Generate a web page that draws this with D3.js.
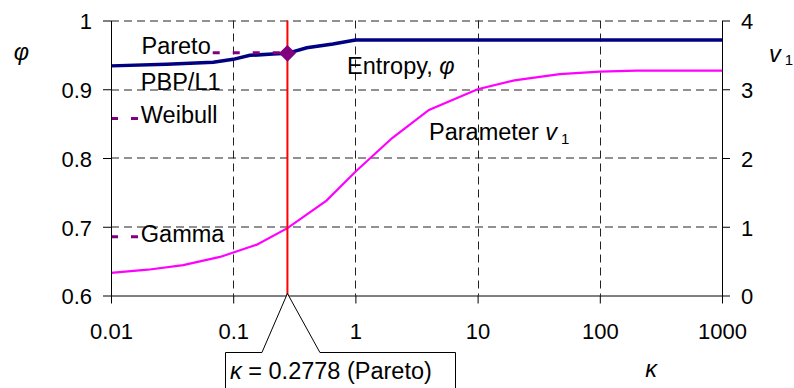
<!DOCTYPE html>
<html>
<head>
<meta charset="utf-8">
<script src="https://cdn.jsdelivr.net/npm/d3@7"></script>
<style>
  html, body { margin: 0; padding: 0; background: #fff; overflow: hidden; }
  svg { display: block; }
</style>
</head>
<body>
<div id="chart"></div>
<script>
// entropy phi (left axis) against kappa
const entropyKappa = [0.01, 0.0286, 0.0687, 0.1, 0.137, 0.211, 0.2778, 0.4, 0.655, 1, 1000];
const entropyPhi = [0.934, 0.9362, 0.9392, 0.9435, 0.9493, 0.9512, 0.9522, 0.9604, 0.9658, 0.9716, 0.9716];

// parameter v1 (right axis) against kappa
const v1Kappa = [0.01, 0.02, 0.039, 0.078, 0.156, 0.2778, 0.58, 1, 2, 4, 10, 20, 47, 100, 200, 1000];
const v1Values = [0.33, 0.375, 0.441, 0.561, 0.74, 0.98, 1.38, 1.8, 2.29, 2.7, 3.0, 3.13, 3.22, 3.255, 3.27, 3.27];

// reference distributions (phi levels)
const refNames = ["Pareto", "Weibull", "Gamma"];
const refPhi = [0.953, 0.8576, 0.6855];
const refFrom = [0.068, 0.01, 0.01];
const refTo = [0.2778, 0.0169, 0.0169];

const paretoKappa = 0.2778;
const paretoPhi = 0.9522;

const xTicks = [0.01, 0.1, 1, 10, 100, 1000];
const xTickLabels = ["0.01", "0.1", "1", "10", "100", "1000"];
const leftTicks = [0.6, 0.7, 0.8, 0.9, 1];
const leftTickLabels = ["0.6", "0.7", "0.8", "0.9", "1"];
const rightTicks = [0, 1, 2, 3, 4];

const fontFamily = "'Liberation Sans', Arial, sans-serif";
const outerWidth = 794;
const outerHeight = 388;
const margin = { top: 20.5, right: 72, bottom: 92.5, left: 111 };
const innerWidth = outerWidth - margin.left - margin.right;
const innerHeight = outerHeight - margin.top - margin.bottom;

const svg = d3
  .select("#chart")
  .append("svg")
  .attr("width", outerWidth)
  .attr("height", outerHeight)
  .attr("font-family", fontFamily);

const g = svg
  .append("g")
  .attr("transform", "translate(" + margin.left + "," + margin.top + ")");

const xScale = d3.scaleLog().domain([0.01, 1000]).range([0, innerWidth]);
const yLeft = d3.scaleLinear().domain([0.6, 1]).range([innerHeight, 0]);
const yRight = d3.scaleLinear().domain([0, 4]).range([innerHeight, 0]);

// grid
g.selectAll(".hgrid")
  .data(leftTicks.slice(1))
  .enter()
  .append("line")
  .attr("x1", 0)
  .attr("x2", innerWidth)
  .attr("y1", d => Math.round(yLeft(d)) + 0.5)
  .attr("y2", d => Math.round(yLeft(d)) + 0.5)
  .attr("stroke", "#222")
  .attr("stroke-dasharray", "8,5");

g.selectAll(".vgrid")
  .data(xTicks.slice(1, -1))
  .enter()
  .append("line")
  .attr("x1", d => Math.round(xScale(d)) + 0.5)
  .attr("x2", d => Math.round(xScale(d)) + 0.5)
  .attr("y1", 0)
  .attr("y2", innerHeight)
  .attr("stroke", "#222")
  .attr("stroke-dasharray", "8,5");

// curves
const v1Line = d3
  .line()
  .x((d, i) => xScale(v1Kappa[i]))
  .y(d => yRight(d));

g.append("path")
  .attr("d", v1Line(v1Values))
  .attr("fill", "none")
  .attr("stroke", "#ff00ff")
  .attr("stroke-width", 2.2);

const phiLine = d3
  .line()
  .x((d, i) => xScale(entropyKappa[i]))
  .y(d => yLeft(d));

g.append("path")
  .attr("d", phiLine(entropyPhi))
  .attr("fill", "none")
  .attr("stroke", "#000080")
  .attr("stroke-width", 3.5);

// pareto kappa marker line
g.append("line")
  .attr("x1", xScale(paretoKappa))
  .attr("x2", xScale(paretoKappa))
  .attr("y1", 0)
  .attr("y2", innerHeight)
  .attr("stroke", "#ff0000")
  .attr("stroke-width", 2);

// reference dashes
g.selectAll(".ref")
  .data(refPhi)
  .enter()
  .append("line")
  .attr("x1", (d, i) => xScale(refFrom[i]))
  .attr("x2", (d, i) => xScale(refTo[i]))
  .attr("y1", d => yLeft(d))
  .attr("y2", d => yLeft(d))
  .attr("stroke", "#800080")
  .attr("stroke-width", 3)
  .attr("stroke-dasharray", "7,13");

g.append("path")
  .attr("d", d3.symbol(d3.symbolSquare, 144)())
  .attr("transform", "translate(" + xScale(paretoKappa) + "," + yLeft(paretoPhi) + ") rotate(45)")
  .attr("fill", "#800080");

// axes
const xAxis = d3.axisBottom(xScale)
  .tickValues(xTicks)
  .tickFormat((d, i) => xTickLabels[i])
  .tickSizeInner(8)
  .tickSizeOuter(0)
  .tickPadding(20);

const leftAxis = d3.axisLeft(yLeft)
  .tickValues(leftTicks)
  .tickFormat((d, i) => leftTickLabels[i])
  .tickSizeInner(8)
  .tickSizeOuter(0)
  .tickPadding(11);

const rightAxis = d3.axisRight(yRight)
  .tickValues(rightTicks)
  .tickFormat(d3.format("d"))
  .tickSizeInner(8)
  .tickSizeOuter(0)
  .tickPadding(11);

const xAxisGroup = g.append("g")
  .attr("transform", "translate(0," + innerHeight + ")")
  .call(xAxis);
const leftAxisGroup = g.append("g").call(leftAxis);
const rightAxisGroup = g.append("g")
  .attr("transform", "translate(" + innerWidth + ",0)")
  .call(rightAxis);

[xAxisGroup, leftAxisGroup, rightAxisGroup].forEach(ax => {
  ax.attr("font-family", fontFamily).attr("font-size", 22);
  ax.selectAll("text").attr("fill", "#000");
  ax.selectAll("line, path").attr("stroke", "#000");
});
leftAxisGroup.selectAll("text").attr("dy", "0.38em");
rightAxisGroup.selectAll("text").attr("dy", "0.38em");

// series labels
const labels = g.append("g").attr("font-size", 23.5).attr("fill", "#000");
labels.append("text")
  .attr("x", xScale(refFrom[0]) - 2)
  .attr("y", yLeft(refPhi[0]) + 1.5)
  .attr("text-anchor", "end")
  .text(refNames[0]);
labels.append("text")
  .attr("x", xScale(refTo[1]) + 2)
  .attr("y", yLeft(0.9) + 0.5)
  .text("PBP/L1");
labels.append("text")
  .attr("x", xScale(refTo[1]) + 2)
  .attr("y", yLeft(refPhi[1]) + 5)
  .text(refNames[1]);
labels.append("text")
  .attr("x", xScale(refTo[2]) + 2)
  .attr("y", yLeft(refPhi[2]) + 5.5)
  .text(refNames[2]);

const entropyLabel = labels.append("text").attr("x", 236).attr("y", 53);
entropyLabel.append("tspan").text("Entropy, ");
entropyLabel.append("tspan").attr("font-style", "italic").text("φ");

const v1Label = labels.append("text").attr("x", 318).attr("y", 119);
v1Label.append("tspan").text("Parameter ");
v1Label.append("tspan").attr("font-style", "italic").text("v");
v1Label.append("tspan").attr("dx", 4).attr("dy", 4).attr("font-size", 15).text("1");

// axis titles
const titles = svg.append("g").attr("font-size", 23.5).attr("fill", "#000");
titles.append("text")
  .attr("x", 21.5)
  .attr("y", 60)
  .attr("text-anchor", "middle")
  .attr("font-style", "italic")
  .text("φ");

const rightTitle = titles.append("text").attr("x", 769).attr("y", 62);
rightTitle.append("tspan").attr("font-style", "italic").text("v");
rightTitle.append("tspan").attr("dx", 4).attr("dy", 3).attr("font-size", 15).text("1");

titles.append("text")
  .attr("x", 651)
  .attr("y", 377)
  .attr("text-anchor", "middle")
  .attr("font-style", "italic")
  .text("κ");

// callout for the pareto kappa
const apexX = margin.left + xScale(paretoKappa);
const apexY = margin.top + innerHeight - 2;
const boxTop = 352.5;
const callout = d3.path();
callout.moveTo(225.5, 400);
callout.lineTo(225.5, boxTop);
callout.lineTo(apexX - 25.5, boxTop);
callout.lineTo(apexX, apexY);
callout.lineTo(apexX + 32.5, boxTop);
callout.lineTo(455.5, boxTop);
callout.lineTo(455.5, 400);

const calloutGroup = svg.append("g").attr("font-size", 23.5).attr("fill", "#000");
calloutGroup.append("path")
  .attr("d", callout.toString())
  .attr("fill", "#fff")
  .attr("stroke", "#000")
  .attr("stroke-width", 1);

const calloutText = calloutGroup.append("text").attr("x", 230).attr("y", 379);
calloutText.append("tspan").attr("font-style", "italic").text("κ");
calloutText.append("tspan").text(" = " + paretoKappa + " (" + refNames[0] + ")");
</script>
</body>
</html>
